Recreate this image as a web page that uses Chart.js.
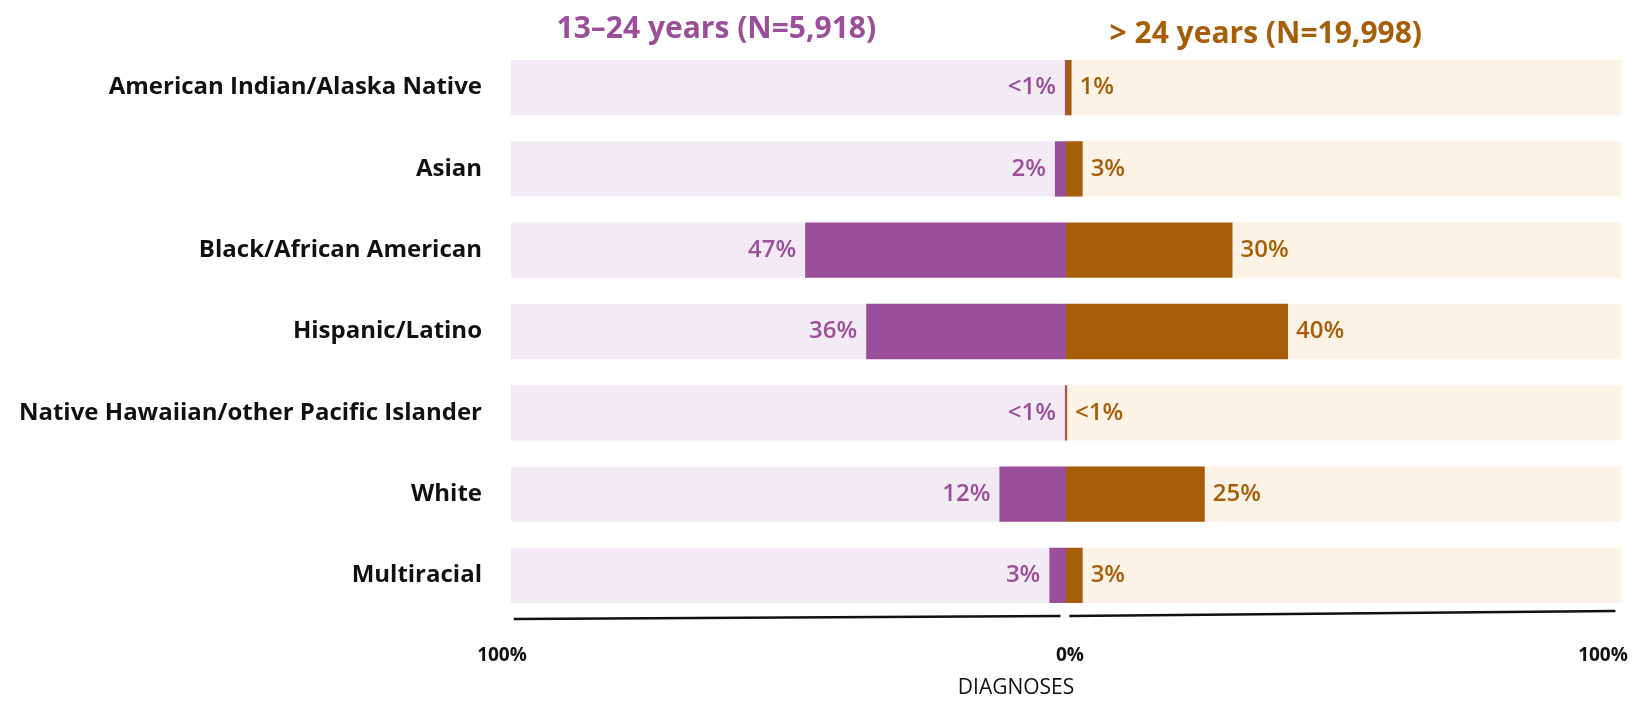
<!DOCTYPE html>
<html>
<head>
<meta charset="utf-8">
<script src="https://cdn.jsdelivr.net/npm/chart.js@4.4.0/dist/chart.umd.min.js"></script>
<style>
  html, body { margin: 0; padding: 0; background: #fff; }
</style>
</head>
<body>
<canvas id="chart" width="1645" height="702"></canvas>
<script>
// data
const categories = [
  'American Indian/Alaska Native',
  'Asian',
  'Black/African American',
  'Hispanic/Latino',
  'Native Hawaiian/other Pacific Islander',
  'White',
  'Multiracial'
];
const youngValues = [0.2, 2, 47, 36, 0.2, 12, 3];
const olderValues = [1, 3, 30, 40, 0.2, 25, 3];
const youngLabels = ['<1%', '2%', '47%', '36%', '<1%', '12%', '3%'];
const olderLabels = ['1%', '3%', '30%', '40%', '<1%', '25%', '3%'];
const groupTitles = ['13–24 years (N=5,918)', '> 24 years (N=19,998)'];
const xTicks = [-100, 0, 100];
const xTitle = 'DIAGNOSES';

const PURPLE = '#9B4F9B';
const BROWN = '#A65E08';
const FONT = "'Open Sans', 'Liberation Sans', sans-serif";

// value labels next to each bar end
const valueLabels = {
  id: 'valueLabels',
  afterDatasetsDraw(chart) {
    const ctx = chart.ctx;
    ctx.save();
    ctx.font = '600 24px ' + FONT;
    ctx.textBaseline = 'middle';
    chart.getDatasetMeta(0).data.forEach((bar, i) => {
      ctx.fillStyle = PURPLE;
      ctx.textAlign = 'right';
      ctx.fillText(youngLabels[i], bar.x - 9, bar.y);
    });
    chart.getDatasetMeta(1).data.forEach((bar, i) => {
      ctx.fillStyle = BROWN;
      ctx.textAlign = 'left';
      ctx.fillText(olderLabels[i], bar.x + 8, bar.y);
    });
    ctx.restore();
  }
};

// group titles, split axis line, x tick labels and axis title
const decorations = {
  id: 'decorations',
  afterDraw(chart) {
    const ctx = chart.ctx;
    const x = chart.scales.x;
    const area = chart.chartArea;
    ctx.save();
    ctx.textAlign = 'center';
    ctx.textBaseline = 'middle';
    ctx.font = 'bold 30px ' + FONT;
    ctx.fillStyle = PURPLE;
    ctx.fillText(groupTitles[0], x.getPixelForValue(-63), area.top - 18);
    ctx.fillStyle = BROWN;
    ctx.fillText(groupTitles[1], x.getPixelForValue(36), area.top - 13);

    ctx.strokeStyle = '#111';
    ctx.lineWidth = 2.5;
    ctx.beginPath();
    ctx.moveTo(x.getPixelForValue(-99.5), area.bottom + 3);
    ctx.lineTo(x.getPixelForValue(-1), area.bottom);
    ctx.moveTo(x.getPixelForValue(0.6), area.bottom);
    ctx.lineTo(x.getPixelForValue(99), area.bottom - 5);
    ctx.stroke();

    ctx.fillStyle = '#111';
    ctx.font = 'bold 19px ' + FONT;
    const shift = [-9, 4, -18];
    xTicks.forEach((v, i) => {
      ctx.fillText(Math.abs(v) + '%', x.getPixelForValue(v) + shift[i], area.bottom + 40);
    });
    ctx.font = '21px ' + FONT;
    ctx.fillText(xTitle, x.getPixelForValue(-9), area.bottom + 72);
    ctx.restore();
  }
};

new Chart(document.getElementById('chart'), {
  type: 'bar',
  data: {
    labels: categories,
    datasets: [
      { data: youngValues.map(v => -v), backgroundColor: PURPLE, order: 0 },
      { data: olderValues, backgroundColor: BROWN, order: 0 },
      { data: categories.map(() => -100), backgroundColor: '#F3EBF4', order: 1 },
      { data: categories.map(() => 100), backgroundColor: '#FDF2E6', order: 1 }
    ]
  },
  options: {
    indexAxis: 'y',
    responsive: false,
    animation: false,
    datasets: {
      bar: { grouped: false, categoryPercentage: 1, barPercentage: 0.68 }
    },
    layout: { padding: { top: 47, right: 24, left: 0, bottom: 0 } },
    plugins: { legend: { display: false }, tooltip: { enabled: false } },
    scales: {
      x: {
        min: -100,
        max: 100,
        afterFit: s => { s.height = 86; },
        grid: { display: false, drawTicks: false },
        border: { display: false },
        ticks: { display: false }
      },
      y: {
        afterFit: s => { s.width = 511; },
        grid: { display: false, drawTicks: false },
        border: { display: false },
        ticks: {
          padding: 29,
          color: '#111',
          font: { family: FONT, size: 24, weight: 'bold' }
        }
      }
    }
  },
  plugins: [valueLabels, decorations]
});
</script>
</body>
</html>
